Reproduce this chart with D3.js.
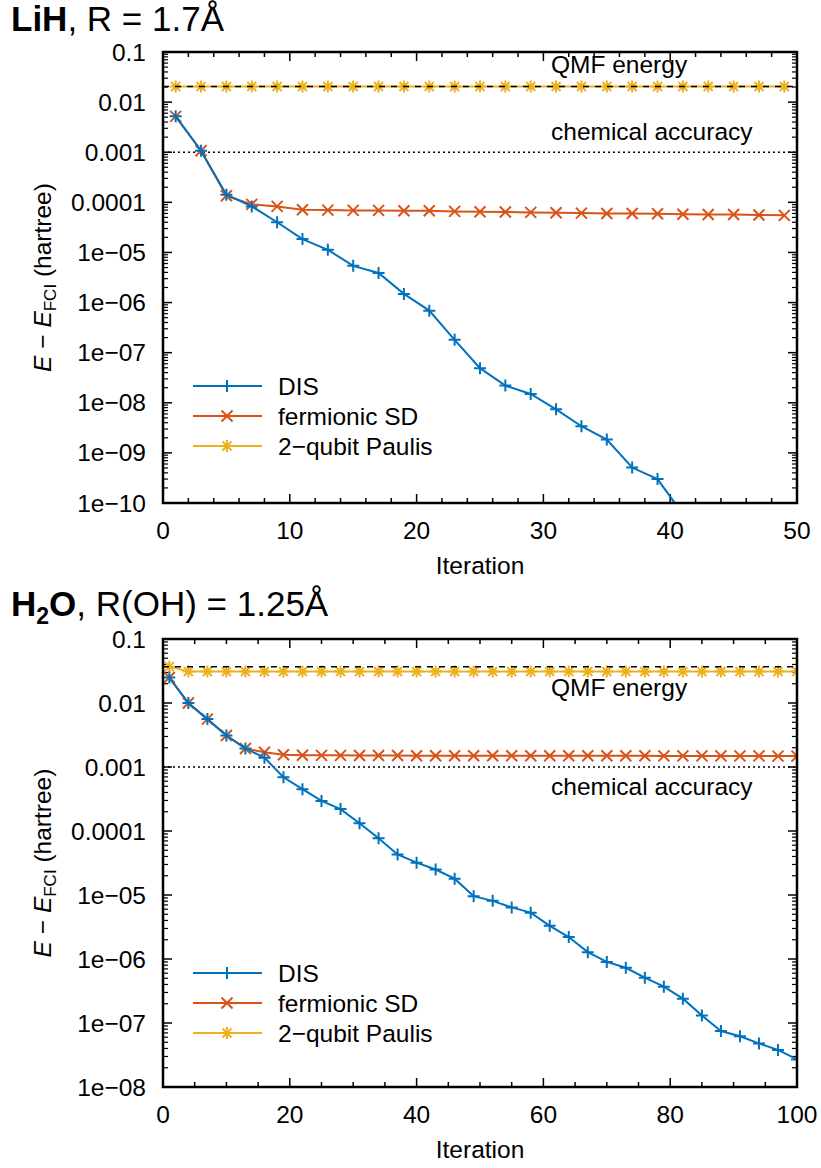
<!DOCTYPE html>
<html>
<head>
<meta charset="utf-8">
<script src="https://cdn.jsdelivr.net/npm/d3@7"></script>
<style>
  body { margin: 0; background: #fff; }
  svg { font-family: "Liberation Sans", Arial, sans-serif; }
</style>
</head>
<body>
<div id="viz"></div>
<script>
var w = 821;
var h = 1168;

// LiH, R = 1.7 A
var lihIter = [1, 3, 5, 7, 9, 11, 13, 15, 17, 19, 21, 23, 25, 27, 29, 31, 33, 35, 37, 39, 41, 43, 45, 47, 49];
var lihDIS = [5.2e-3, 1.07e-3, 1.42e-4, 8.3e-5, 4.0e-5, 1.85e-5, 1.13e-5, 5.4e-6, 3.9e-6, 1.49e-6,
  6.9e-7, 1.8e-7, 4.9e-8, 2.2e-8, 1.5e-8, 7.4e-9, 3.4e-9, 1.85e-9, 5.1e-10, 3.0e-10, 6e-11];
var lihSD = [5.2e-3, 1.07e-3, 1.35e-4, 9.1e-5, 8.3e-5, 7.1e-5, 7.0e-5, 6.9e-5, 6.9e-5, 6.8e-5,
  6.8e-5, 6.6e-5, 6.5e-5, 6.4e-5, 6.3e-5, 6.2e-5, 6.1e-5, 6.0e-5, 6.0e-5, 5.9e-5,
  5.8e-5, 5.7e-5, 5.7e-5, 5.6e-5, 5.5e-5];
var lihPauli = [0.0205, 0.0205, 0.0205, 0.0205, 0.0205, 0.0205, 0.0205, 0.0205, 0.0205, 0.0205,
  0.0205, 0.0205, 0.0205, 0.0205, 0.0205, 0.0205, 0.0205, 0.0205, 0.0205, 0.0205,
  0.0205, 0.0205, 0.0205, 0.0205, 0.0205];
var lihQMF = 0.0205;

// H2O, R(OH) = 1.25 A
var h2oIter = [1, 4, 7, 10, 13, 16, 19, 22, 25, 28, 31, 34, 37, 40, 43, 46, 49, 52, 55, 58,
  61, 64, 67, 70, 73, 76, 79, 82, 85, 88, 91, 94, 97, 100];
var h2oDIS = [0.025, 0.0100, 0.0056, 0.0031, 0.00195, 0.0014, 6.9e-4, 4.5e-4, 2.95e-4, 2.2e-4,
  1.32e-4, 7.7e-5, 4.3e-5, 3.2e-5, 2.5e-5, 1.8e-5, 9.6e-6, 8.1e-6, 6.4e-6, 5.3e-6,
  3.3e-6, 2.2e-6, 1.28e-6, 9.0e-7, 7.3e-7, 5.1e-7, 3.7e-7, 2.4e-7, 1.31e-7, 7.5e-8,
  6.2e-8, 4.8e-8, 3.8e-8, 2.7e-8];
var h2oSD = [0.025, 0.0100, 0.0056, 0.0031, 0.00195, 0.0017, 0.00155, 0.00153, 0.00152, 0.00152,
  0.00151, 0.00151, 0.00151, 0.0015, 0.0015, 0.0015, 0.0015, 0.0015, 0.0015, 0.0015,
  0.0015, 0.0015, 0.0015, 0.0015, 0.0015, 0.0015, 0.00149, 0.00149, 0.00149, 0.00149,
  0.00149, 0.00149, 0.00148, 0.00148];
var h2oPauli = [0.037, 0.031, 0.031, 0.031, 0.031, 0.031, 0.031, 0.031, 0.031, 0.031,
  0.031, 0.031, 0.031, 0.031, 0.031, 0.031, 0.031, 0.031, 0.031, 0.031,
  0.031, 0.031, 0.031, 0.031, 0.031, 0.031, 0.031, 0.031, 0.031, 0.031,
  0.031, 0.031, 0.031, 0.031];
var h2oQMF = 0.037;

var chemAcc = 0.001;
var seriesNames = ["DIS", "fermionic SD", "2\u2212qubit Paulis"];
var yTickLabels1 = ["0.1", "0.01", "0.001", "0.0001", "1e\u221205", "1e\u221206", "1e\u221207", "1e\u221208", "1e\u221209", "1e\u221210"];
var yTickLabels2 = ["0.1", "0.01", "0.001", "0.0001", "1e\u221205", "1e\u221206", "1e\u221207", "1e\u221208"];

var fs = 24.5;

var svg = d3.select("#viz")
    .append("svg")
    .attr("width", w)
    .attr("height", h);

function choosefill(index) {
  if (index === 0) { return "#0072BD"; }
  if (index === 1) { return "#D95319"; }
  if (index === 2) { return "#EDB120"; }
}

function marker(g, kind, x, y, color) {
  var s = 6;
  var p = "";
  if (kind === 0 || kind === 2) {
    p += "M" + (x - s) + "," + y + "h" + (2 * s) + "M" + x + "," + (y - s) + "v" + (2 * s);
  }
  if (kind === 1 || kind === 2) {
    var d = kind === 1 ? 5.5 : 4.5;
    p += "M" + (x - d) + "," + (y - d) + "L" + (x + d) + "," + (y + d) +
         "M" + (x - d) + "," + (y + d) + "L" + (x + d) + "," + (y - d);
  }
  g.append("path").attr("d", p).attr("stroke", color).attr("stroke-width", 2).attr("fill", "none");
}

function drawPanel(cfg) {
  var left = 163, right = 797;
  var g = svg.append("g");
  var x = d3.scaleLinear().domain(cfg.xDomain).range([left, right]);
  var y = d3.scaleLog().domain(cfg.yDomain).range([cfg.bottom, cfg.top]);

  var clipId = "clip" + cfg.id;
  svg.append("clipPath").attr("id", clipId)
    .append("rect").attr("x", left).attr("y", cfg.top)
    .attr("width", right - left).attr("height", cfg.bottom - cfg.top);

  // title
  var title = g.append("text").attr("x", 11).attr("y", cfg.titleY)
    .attr("font-size", 35).attr("fill", "#000");
  cfg.title(title);

  // y ticks (log)
  var topExp = Math.round(Math.log10(cfg.yDomain[1]));
  var decades = d3.range(Math.round(Math.log10(cfg.yDomain[0])), topExp + 1);
  decades.forEach(function(e) {
    var v = Math.pow(10, e);
    [left, right].forEach(function(xx, k) {
      var dir = k === 0 ? 1 : -1;
      g.append("line").attr("x1", xx).attr("x2", xx + dir * 9)
        .attr("y1", y(v)).attr("y2", y(v)).attr("stroke", "#000").attr("stroke-width", 1.5);
      if (e < topExp) {
        for (var m = 2; m <= 9; m++) {
          g.append("line").attr("x1", xx).attr("x2", xx + dir * 5)
            .attr("y1", y(v * m)).attr("y2", y(v * m)).attr("stroke", "#000").attr("stroke-width", 1.2);
        }
      }
    });
  });
  var yLabs = decades.slice().reverse();
  yLabs.forEach(function(e, i) {
    g.append("text").attr("x", 146).attr("y", y(Math.pow(10, e)) + 8.5)
      .attr("text-anchor", "end").attr("font-size", fs).text(cfg.yLabels[i]);
  });

  // x ticks
  d3.range(cfg.xDomain[0], cfg.xDomain[1] + 0.001, cfg.xMinor).forEach(function(v) {
    var major = Math.abs(v / cfg.xMajor - Math.round(v / cfg.xMajor)) < 1e-6;
    var len = major ? 9 : 5;
    g.append("line").attr("x1", x(v)).attr("x2", x(v)).attr("y1", cfg.bottom).attr("y2", cfg.bottom - len)
      .attr("stroke", "#000").attr("stroke-width", 1.5);
    g.append("line").attr("x1", x(v)).attr("x2", x(v)).attr("y1", cfg.top).attr("y2", cfg.top + len)
      .attr("stroke", "#000").attr("stroke-width", 1.5);
    if (major) {
      g.append("text").attr("x", x(v)).attr("y", cfg.bottom + 36)
        .attr("text-anchor", "middle").attr("font-size", fs).text(v);
    }
  });

  g.append("text").attr("x", (left + right) / 2).attr("y", cfg.bottom + 71)
    .attr("text-anchor", "middle").attr("font-size", fs).text("Iteration");

  // y label
  var yl = g.append("text").attr("transform", "translate(51," + ((cfg.top + cfg.bottom) / 2) + ") rotate(-90)")
    .attr("text-anchor", "middle").attr("font-size", fs);
  yl.append("tspan").attr("font-style", "italic").text("E");
  yl.append("tspan").text(" \u2212 ");
  yl.append("tspan").attr("font-style", "italic").text("E");
  yl.append("tspan").attr("font-size", 17).attr("dy", 5).text("FCI");
  yl.append("tspan").attr("dy", -5).text(" (hartree)");

  var plot = g.append("g").attr("clip-path", "url(#" + clipId + ")");

  // reference lines
  plot.append("line").attr("x1", left).attr("x2", right).attr("y1", y(chemAcc)).attr("y2", y(chemAcc))
    .attr("stroke", "#000").attr("stroke-width", 1.5).attr("stroke-dasharray", "2,3");

  var series = [cfg.dis, cfg.sd, cfg.pauli];
  var line = d3.line().x(function(d) { return x(d[0]); }).y(function(d) { return y(d[1]); });
  [2, 1, 0].forEach(function(i) {
    var pts = series[i].map(function(v, j) { return [cfg.iter[j], v]; });
    plot.append("path").attr("d", line(pts)).attr("fill", "none")
      .attr("stroke", choosefill(i)).attr("stroke-width", 2);
    pts.forEach(function(p) {
      if (y(p[1]) <= cfg.bottom + 6) { marker(plot, i, x(p[0]), y(p[1]), choosefill(i)); }
    });
  });

  plot.append("line").attr("x1", left).attr("x2", right).attr("y1", y(cfg.qmf)).attr("y2", y(cfg.qmf))
    .attr("stroke", "#000").attr("stroke-width", 1.5).attr("stroke-dasharray", "6,6");

  g.append("text").attr("x", 551).attr("y", y(cfg.qmf) + cfg.qmfDy).attr("font-size", fs).text("QMF energy");
  g.append("text").attr("x", 551).attr("y", y(chemAcc) + cfg.chemDy).attr("font-size", fs).text("chemical accuracy");

  // legend
  seriesNames.forEach(function(name, i) {
    var ly = cfg.legendY + i * 30;
    g.append("line").attr("x1", 193).attr("x2", 262).attr("y1", ly).attr("y2", ly)
      .attr("stroke", choosefill(i)).attr("stroke-width", 2);
    marker(g, i, 227, ly, choosefill(i));
    g.append("text").attr("x", 278).attr("y", ly + 9).attr("font-size", fs).text(name);
  });

  // frame
  g.append("rect").attr("x", left).attr("y", cfg.top).attr("width", right - left)
    .attr("height", cfg.bottom - cfg.top).attr("fill", "none").attr("stroke", "#000").attr("stroke-width", 2.5);
}

drawPanel({
  id: 1, top: 52, bottom: 503, xDomain: [0, 50], yDomain: [1e-10, 0.1],
  xMajor: 10, xMinor: 2, yLabels: yTickLabels1,
  iter: lihIter, dis: lihDIS, sd: lihSD, pauli: lihPauli, qmf: lihQMF,
  qmfDy: -13, chemDy: -12, legendY: 386, titleY: 31,
  title: function(t) {
    t.append("tspan").attr("font-weight", "bold").text("LiH");
    t.append("tspan").text(", R = 1.7\u00c5");
  }
});

drawPanel({
  id: 2, top: 639, bottom: 1087, xDomain: [0, 100], yDomain: [1e-8, 0.1],
  xMajor: 20, xMinor: 5, yLabels: yTickLabels2,
  iter: h2oIter, dis: h2oDIS, sd: h2oSD, pauli: h2oPauli, qmf: h2oQMF,
  qmfDy: 29, chemDy: 28, legendY: 973, titleY: 616,
  title: function(t) {
    t.append("tspan").attr("font-weight", "bold").text("H");
    t.append("tspan").attr("font-weight", "bold").attr("font-size", 23).attr("dy", 8).text("2");
    t.append("tspan").attr("font-weight", "bold").attr("dy", -8).text("O");
    t.append("tspan").text(", R(OH) = 1.25\u00c5");
  }
});
</script>
</body>
</html>
